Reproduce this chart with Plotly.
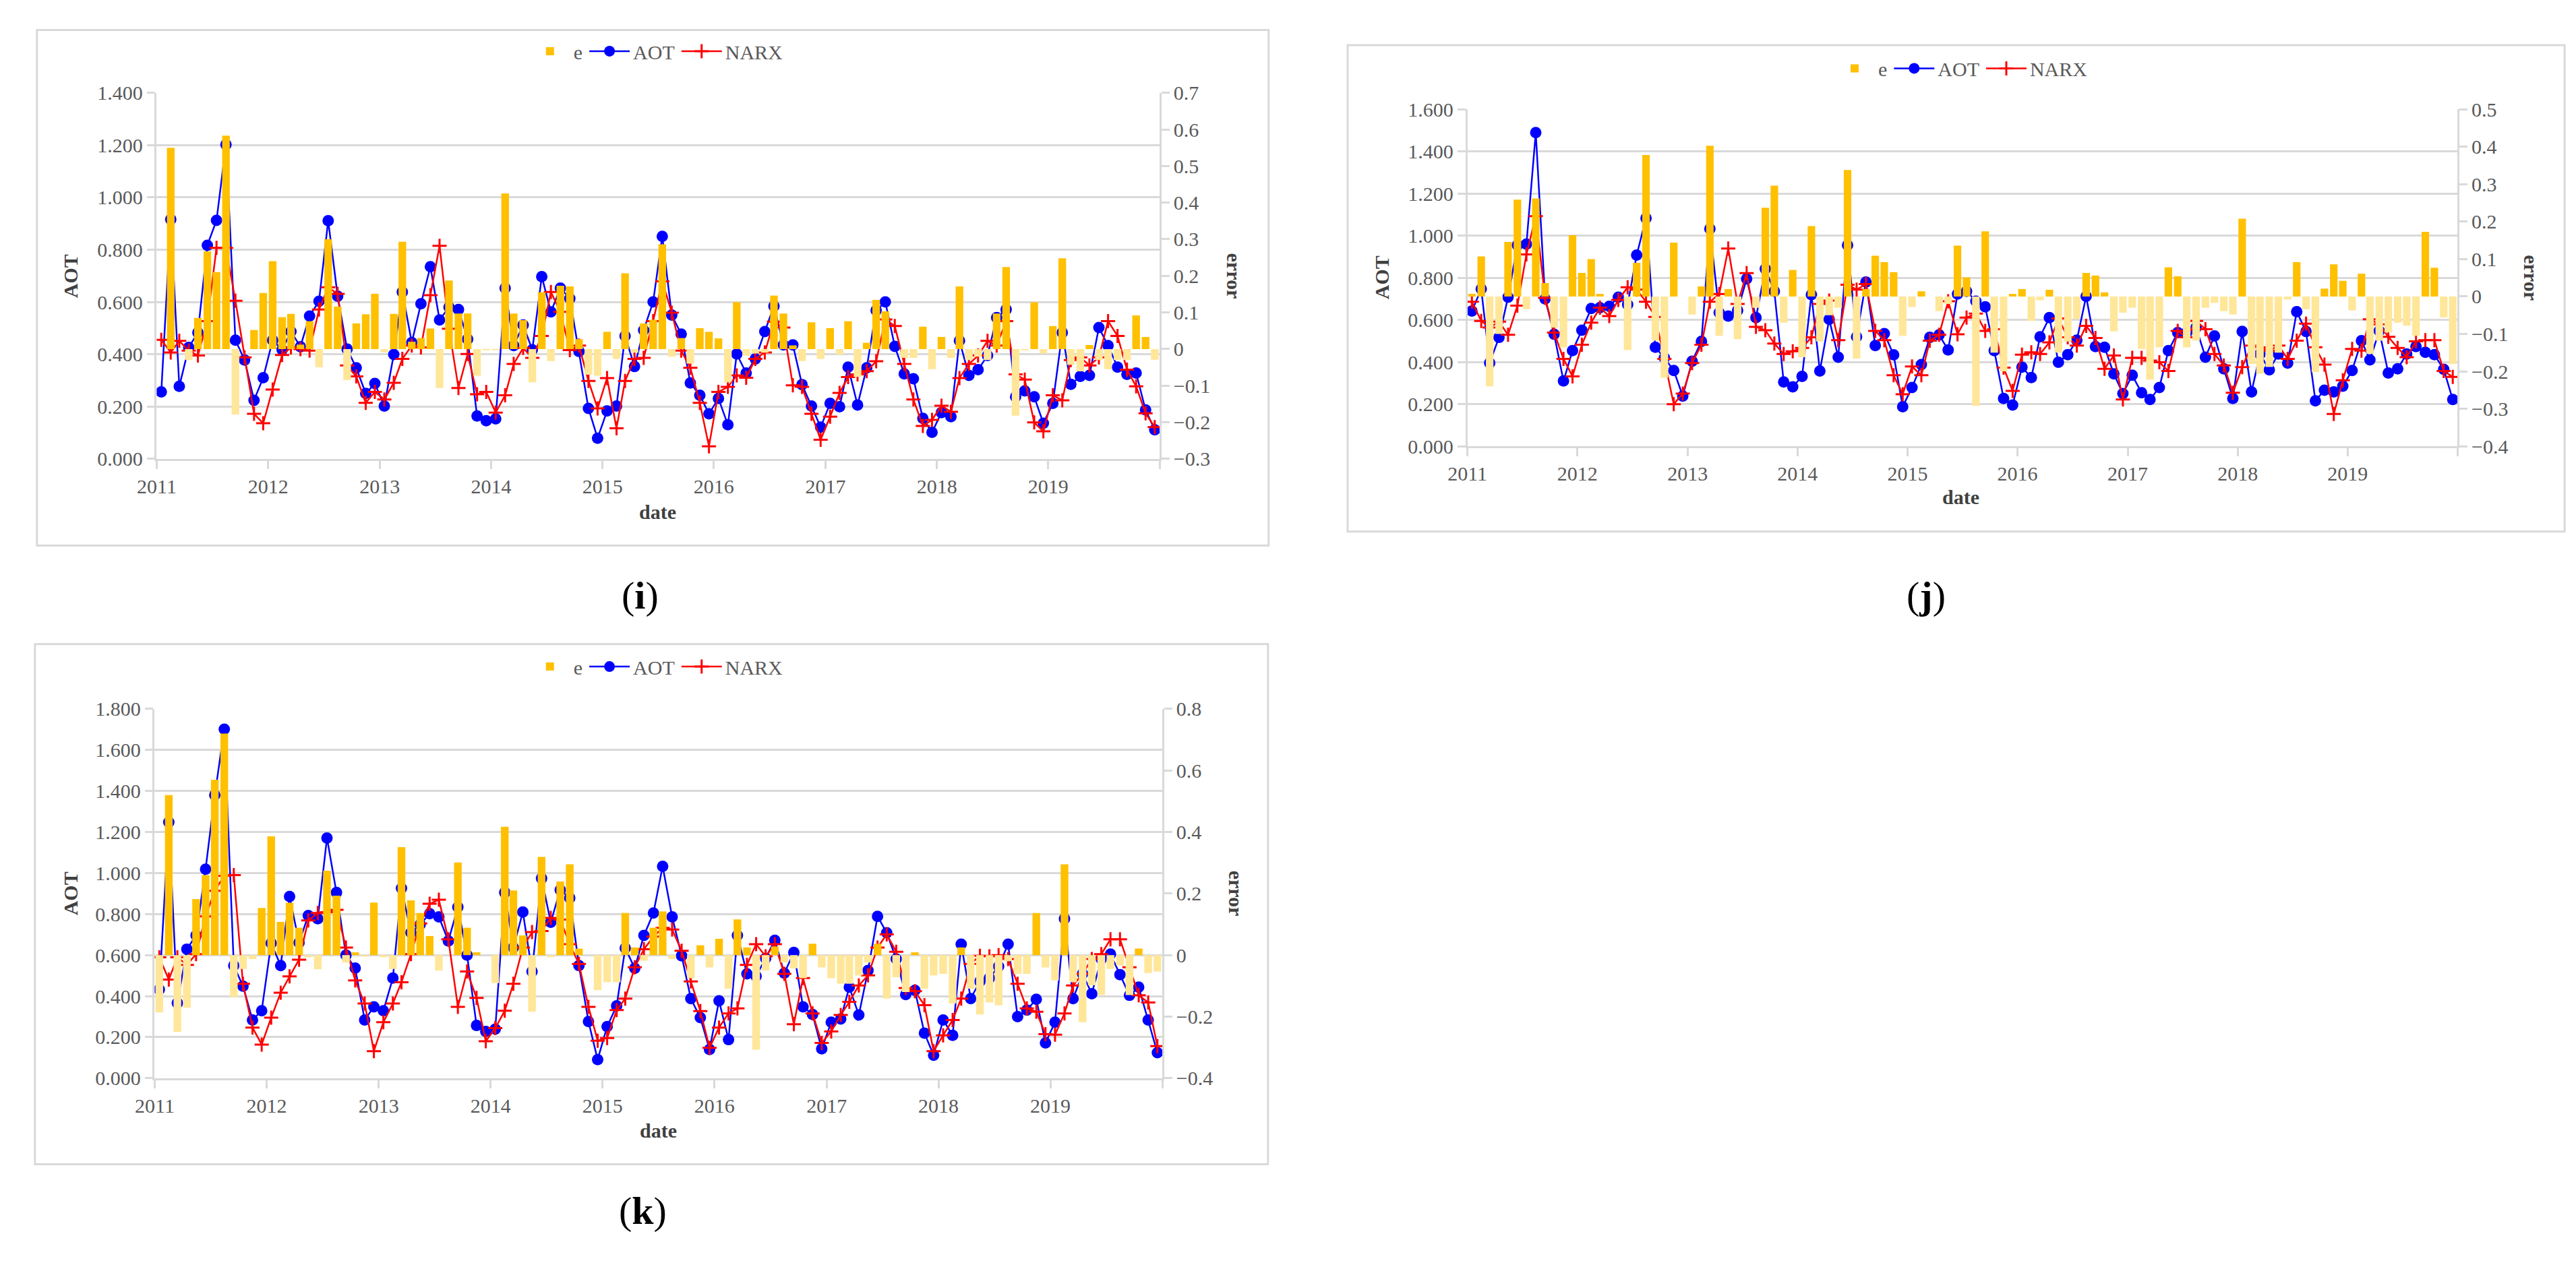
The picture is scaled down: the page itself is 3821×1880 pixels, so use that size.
import numpy as np
import pandas as pd
import plotly.graph_objects as go

W, H = 3821, 1880

# ---------------- data ----------------
months = pd.date_range("2011-01-01", periods=108, freq="MS") + pd.Timedelta(days=15)
year_ticks = [f"{y}-01-01" for y in range(2011, 2021)]
year_labels = [str(y) for y in range(2011, 2020)] + [""]

aot_i = [0.256, 0.916, 0.277, 0.426, 0.483, 0.817, 0.912, 1.202, 0.454, 0.378, 0.224, 0.310,
         0.454, 0.417, 0.487, 0.429, 0.546, 0.603, 0.911, 0.622, 0.420, 0.348, 0.250, 0.288,
         0.202, 0.399, 0.638, 0.445, 0.593, 0.735, 0.531, 0.580, 0.571, 0.458, 0.164, 0.146,
         0.153, 0.653, 0.433, 0.512, 0.417, 0.697, 0.562, 0.653, 0.613, 0.411, 0.193, 0.079,
         0.183, 0.202, 0.470, 0.353, 0.492, 0.600, 0.851, 0.550, 0.477, 0.290, 0.243, 0.172,
         0.231, 0.130, 0.401, 0.328, 0.382, 0.487, 0.584, 0.436, 0.436, 0.284, 0.202, 0.121,
         0.212, 0.199, 0.351, 0.206, 0.348, 0.568, 0.600, 0.430, 0.325, 0.306, 0.155, 0.101,
         0.177, 0.161, 0.452, 0.319, 0.341, 0.395, 0.540, 0.571, 0.237, 0.260, 0.237, 0.136,
         0.212, 0.483, 0.285, 0.315, 0.319, 0.502, 0.433, 0.351, 0.323, 0.328, 0.187, 0.111]
narx_i = [0.455, 0.407, 0.451, 0.414, 0.395, 0.527, 0.807, 0.807, 0.605, 0.388, 0.172, 0.136,
          0.265, 0.397, 0.426, 0.420, 0.414, 0.571, 0.656, 0.631, 0.357, 0.315, 0.214, 0.256,
          0.227, 0.291, 0.382, 0.433, 0.426, 0.626, 0.815, 0.498, 0.271, 0.401, 0.247, 0.256,
          0.177, 0.243, 0.363, 0.424, 0.386, 0.470, 0.638, 0.562, 0.416, 0.433, 0.298, 0.193,
          0.309, 0.117, 0.298, 0.382, 0.386, 0.527, 0.679, 0.559, 0.414, 0.348, 0.214, 0.048,
          0.256, 0.275, 0.319, 0.310, 0.382, 0.407, 0.525, 0.502, 0.281, 0.275, 0.172, 0.073,
          0.161, 0.252, 0.313, 0.323, 0.335, 0.373, 0.533, 0.508, 0.363, 0.227, 0.126, 0.149,
          0.203, 0.180, 0.309, 0.363, 0.395, 0.451, 0.433, 0.527, 0.323, 0.303, 0.139, 0.105,
          0.243, 0.224, 0.378, 0.388, 0.357, 0.388, 0.527, 0.470, 0.341, 0.277, 0.174, 0.121]
e_i = [0.000, 0.550, 0.000, -0.030, 0.085, 0.267, 0.210, 0.583, -0.179, 0.000, 0.052, 0.153,
       0.240, 0.087, 0.096, 0.012, 0.076, -0.050, 0.300, 0.116, -0.085, 0.070, 0.095, 0.151,
       -0.009, 0.096, 0.293, 0.020, 0.030, 0.056, -0.106, 0.187, 0.097, 0.097, -0.073, -0.003,
       -0.003, 0.425, 0.097, 0.079, -0.091, 0.155, -0.033, 0.173, 0.171, 0.027, -0.070, -0.073,
       0.047, -0.027, 0.207, -0.010, 0.070, 0.080, 0.286, -0.021, 0.030, -0.040, 0.057, 0.047,
       0.029, -0.091, 0.128, -0.018, -0.012, -0.010, 0.146, 0.097, 0.010, -0.033, 0.073, -0.027,
       0.057, -0.015, 0.076, -0.076, 0.017, 0.134, 0.103, 0.000, -0.024, -0.024, 0.061, -0.055,
       0.033, -0.024, 0.171, -0.030, -0.021, -0.030, 0.097, 0.224, -0.182, -0.003, 0.128, -0.012,
       0.063, 0.248, -0.043, -0.061, 0.011, -0.030, -0.055, -0.030, -0.030, 0.092, 0.033, -0.029]

aot_j = [0.642, 0.747, 0.396, 0.517, 0.708, 0.955, 0.960, 1.490, 0.700, 0.532, 0.310, 0.454,
         0.551, 0.654, 0.658, 0.665, 0.708, 0.673, 0.908, 1.083, 0.470, 0.420, 0.360, 0.238,
         0.404, 0.498, 1.033, 0.634, 0.618, 0.645, 0.795, 0.611, 0.842, 0.736, 0.305, 0.282,
         0.332, 0.720, 0.357, 0.603, 0.423, 0.955, 0.520, 0.780, 0.478, 0.535, 0.434, 0.188,
         0.279, 0.388, 0.517, 0.529, 0.457, 0.723, 0.736, 0.689, 0.662, 0.454, 0.227, 0.196,
         0.376, 0.326, 0.520, 0.611, 0.399, 0.435, 0.504, 0.712, 0.473, 0.470, 0.344, 0.250,
         0.337, 0.254, 0.222, 0.279, 0.454, 0.540, 0.540, 0.564, 0.423, 0.524, 0.368, 0.227,
         0.545, 0.258, 0.438, 0.363, 0.438, 0.395, 0.639, 0.545, 0.216, 0.266, 0.258, 0.285,
         0.360, 0.501, 0.410, 0.548, 0.348, 0.368, 0.438, 0.473, 0.446, 0.435, 0.365, 0.222]
narx_j = [0.686, 0.595, 0.564, 0.592, 0.529, 0.668, 0.911, 1.093, 0.705, 0.540, 0.415, 0.332,
          0.482, 0.587, 0.658, 0.618, 0.695, 0.755, 0.744, 0.686, 0.614, 0.415, 0.200, 0.250,
          0.395, 0.482, 0.686, 0.723, 0.939, 0.676, 0.822, 0.567, 0.551, 0.488, 0.438, 0.451,
          0.467, 0.517, 0.676, 0.692, 0.504, 0.767, 0.744, 0.770, 0.548, 0.504, 0.337, 0.247,
          0.379, 0.337, 0.501, 0.529, 0.689, 0.532, 0.611, 0.630, 0.548, 0.556, 0.373, 0.263,
          0.435, 0.446, 0.438, 0.493, 0.607, 0.517, 0.478, 0.572, 0.514, 0.368, 0.431, 0.222,
          0.420, 0.420, 0.407, 0.399, 0.357, 0.548, 0.517, 0.595, 0.556, 0.438, 0.384, 0.254,
          0.376, 0.478, 0.470, 0.454, 0.478, 0.415, 0.501, 0.582, 0.470, 0.388, 0.153, 0.313,
          0.462, 0.454, 0.603, 0.579, 0.520, 0.467, 0.423, 0.498, 0.504, 0.504, 0.357, 0.329]
e_j = [0.007, 0.107, -0.240, -0.100, 0.146, 0.259, -0.034, 0.262, 0.036, -0.083, -0.136, 0.164,
       0.063, 0.100, 0.007, 0.000, 0.000, -0.143, 0.090, 0.378, -0.118, -0.217, 0.144, 0.000,
       -0.048, 0.027, 0.403, -0.105, 0.020, -0.114, 0.000, -0.030, 0.237, 0.296, -0.070, 0.071,
       -0.162, 0.188, -0.120, -0.050, -0.030, 0.338, -0.166, 0.020, 0.109, 0.092, 0.065, -0.105,
       -0.028, 0.014, 0.000, -0.039, -0.020, 0.136, 0.051, -0.292, 0.174, -0.150, -0.200, 0.007,
       0.020, -0.065, -0.010, 0.018, -0.150, -0.120, -0.060, 0.063, 0.056, 0.011, -0.093, -0.043,
       -0.030, -0.140, -0.222, -0.136, 0.078, 0.054, -0.136, -0.118, -0.030, -0.017, -0.039, -0.048,
       0.208, -0.180, -0.206, -0.188, -0.150, -0.008, 0.092, -0.034, -0.202, 0.021, 0.086, 0.042,
       -0.037, 0.061, -0.153, -0.118, -0.096, -0.070, -0.078, -0.105, 0.173, 0.077, -0.056, -0.180]

aot_k = [0.432, 1.248, 0.367, 0.629, 0.696, 1.019, 1.380, 1.701, 0.549, 0.449, 0.284, 0.329,
         0.658, 0.549, 0.886, 0.661, 0.793, 0.777, 1.171, 0.905, 0.600, 0.537, 0.284, 0.348,
         0.329, 0.488, 0.926, 0.709, 0.749, 0.802, 0.786, 0.669, 0.834, 0.600, 0.257, 0.228,
         0.239, 0.905, 0.637, 0.810, 0.520, 0.974, 0.760, 0.918, 0.878, 0.549, 0.276, 0.091,
         0.252, 0.353, 0.634, 0.536, 0.696, 0.805, 1.033, 0.786, 0.597, 0.388, 0.295, 0.140,
         0.377, 0.188, 0.696, 0.509, 0.497, 0.584, 0.672, 0.512, 0.613, 0.348, 0.311, 0.143,
         0.273, 0.289, 0.444, 0.308, 0.525, 0.789, 0.709, 0.581, 0.408, 0.428, 0.220, 0.112,
         0.284, 0.209, 0.653, 0.388, 0.472, 0.488, 0.545, 0.653, 0.300, 0.332, 0.385, 0.172,
         0.273, 0.777, 0.388, 0.509, 0.412, 0.581, 0.605, 0.505, 0.404, 0.444, 0.284, 0.124]
narx_k = [0.589, 0.481, 0.589, 0.552, 0.605, 0.789, 0.914, 0.987, 0.990, 0.460, 0.247, 0.164,
          0.295, 0.417, 0.496, 0.578, 0.769, 0.805, 0.809, 0.821, 0.637, 0.477, 0.364, 0.132,
          0.273, 0.364, 0.468, 0.605, 0.754, 0.850, 0.870, 0.677, 0.348, 0.520, 0.391, 0.180,
          0.244, 0.329, 0.460, 0.637, 0.712, 0.717, 0.781, 0.773, 0.653, 0.557, 0.348, 0.183,
          0.196, 0.332, 0.388, 0.541, 0.629, 0.690, 0.733, 0.725, 0.621, 0.472, 0.327, 0.148,
          0.247, 0.316, 0.340, 0.552, 0.653, 0.594, 0.653, 0.509, 0.263, 0.488, 0.316, 0.172,
          0.228, 0.308, 0.372, 0.452, 0.501, 0.637, 0.701, 0.616, 0.440, 0.424, 0.356, 0.132,
          0.209, 0.284, 0.388, 0.557, 0.597, 0.594, 0.600, 0.581, 0.460, 0.340, 0.324, 0.215,
          0.212, 0.316, 0.452, 0.509, 0.581, 0.605, 0.677, 0.677, 0.541, 0.404, 0.369, 0.156]
e_k = [-0.186, 0.520, -0.250, -0.171, 0.182, 0.260, 0.570, 0.720, -0.136, -0.045, -0.013, 0.153,
       0.386, 0.108, 0.170, 0.089, -0.007, -0.046, 0.274, 0.193, -0.024, 0.009, -0.005, 0.171,
       -0.007, -0.045, 0.351, 0.178, 0.137, 0.062, -0.050, 0.000, 0.301, 0.089, 0.009, 0.000,
       -0.091, 0.417, 0.210, 0.064, -0.184, 0.319, -0.007, 0.239, 0.295, 0.021, 0.000, -0.114,
       -0.088, -0.088, 0.137, 0.025, -0.018, 0.089, 0.142, -0.013, 0.000, -0.075, 0.032, -0.040,
       0.053, -0.109, 0.116, 0.025, -0.307, -0.050, 0.028, -0.024, -0.043, -0.075, 0.037, -0.040,
       -0.075, -0.093, -0.093, -0.066, -0.024, 0.037, -0.141, -0.072, -0.120, 0.009, -0.109, -0.066,
       -0.061, -0.157, 0.025, -0.109, -0.193, -0.154, -0.163, -0.020, -0.061, -0.061, 0.137, -0.040,
       -0.082, 0.295, -0.088, -0.218, -0.098, -0.130, -0.045, -0.034, -0.130, 0.021, -0.058, -0.053]

panels = [
    dict(name="i", aot=aot_i, narx=narx_i, e=e_i, left_max=1.4, right=(-0.3, 0.7), rdtick=0.1),
    dict(name="j", aot=aot_j, narx=narx_j, e=e_j, left_max=1.6, right=(-0.4, 0.5), rdtick=0.1),
    dict(name="k", aot=aot_k, narx=narx_k, e=e_k, left_max=1.8, right=(-0.4, 0.8), rdtick=0.2),
]

# ---------------- layout geometry (pixels) ----------------
geo = [
    dict(plot=(205, 1704, 123, 676), frame=(26, 1867, 28, 807), legend=(952, 60),
         aot_t=(76, 400), err_t=(1815, 400), date=(954, 756), label=(928, 882)),
    dict(plot=(2164, 3644, 148, 657), frame=(1985, 3804, 51, 786), legend=(2902, 86),
         aot_t=(2036, 402), err_t=(3754, 402), date=(2902, 734), label=(2850, 882)),
    dict(plot=(202, 1708, 1054, 1612), frame=(23, 1866, 956, 1742), legend=(952, 990),
         aot_t=(76, 1333), err_t=(1818, 1333), date=(955, 1691), label=(932, 1812)),
]

def px(x):
    return x / W

def py(y):
    return 1 - y / H

FONT = "Liberation Serif"
GRID = "#D9D9D9"
TXT = "#595959"
POS_C = "#FFC000"
NEG_C = "#FFE699"
bar_w = 25 * 24 * 3600 * 1000

fig = go.Figure()
layout = dict(width=W, height=H, margin=dict(l=0, r=0, t=0, b=0),
              paper_bgcolor="white", plot_bgcolor="white", barmode="overlay",
              showlegend=True)
shapes, annotations = [], []

for n, (p, g) in enumerate(zip(panels, geo)):
    xa = "x" if n == 0 else f"x{n + 1}"
    yl_id = 2 * n + 1
    yr_id = 2 * n + 2
    yl = "y" if yl_id == 1 else f"y{yl_id}"
    yr = f"y{yr_id}"
    leg = "legend" if n == 0 else f"legend{n + 1}"
    e = np.array(p["e"])
    e_pos = [v if v >= 0 else None for v in e]
    e_neg = [v if v < 0 else None for v in e]

    fig.add_trace(go.Bar(x=months, y=e_pos, name="e", width=bar_w, marker=dict(color=POS_C, line=dict(width=0)),
                         xaxis=xa, yaxis=yr, legend=leg, showlegend=True))
    fig.add_trace(go.Bar(x=months, y=e_neg, name="e", width=bar_w, marker=dict(color=NEG_C, line=dict(width=0)),
                         xaxis=xa, yaxis=yr, legend=leg, showlegend=False))
    fig.add_trace(go.Scatter(x=months, y=p["aot"], name="AOT", mode="lines+markers",
                             line=dict(color="#0000FF", width=2.5),
                             marker=dict(symbol="circle", size=17, color="#0000FF"),
                             xaxis=xa, yaxis=yl, legend=leg))
    fig.add_trace(go.Scatter(x=months, y=p["narx"], name="NARX", mode="lines+markers",
                             line=dict(color="#FF0000", width=2.5),
                             marker=dict(symbol="cross-thin", size=15, color="#FF0000",
                                         line=dict(color="#FF0000", width=3)),
                             xaxis=xa, yaxis=yl, legend=leg))

    x0, x1, y0, y1 = g["plot"]
    xkey = "xaxis" if n == 0 else f"xaxis{n + 1}"
    ylkey = "yaxis" if yl_id == 1 else f"yaxis{yl_id}"
    yrkey = f"yaxis{yr_id}"
    layout[xkey] = dict(domain=[px(x0), px(x1)], anchor=yl, type="date",
                        range=["2011-01-01", "2020-01-01"],
                        tickmode="array", tickvals=year_ticks, ticktext=year_labels,
                        ticks="outside", ticklen=12, tickwidth=2.5, tickcolor=GRID,
                        showline=True, linecolor=GRID, linewidth=2.5, showgrid=False,
                        zeroline=False,
                        tickfont=dict(family=FONT, size=30, color=TXT))
    layout[ylkey] = dict(domain=[py(y1), py(y0)], anchor=xa, range=[0, p["left_max"]],
                         dtick=0.2, tick0=0, tickformat=".3f",
                         ticks="outside", ticklen=12, tickwidth=2.5, tickcolor=GRID,
                         showline=True, linecolor=GRID, linewidth=2.5,
                         showgrid=True, gridcolor=GRID, gridwidth=2.5, zeroline=False,
                         tickfont=dict(family=FONT, size=30, color=TXT))
    layout[yrkey] = dict(domain=[py(y1), py(y0)], anchor=xa, overlaying=yl, side="right",
                         range=list(p["right"]), dtick=p["rdtick"], tick0=0,
                         ticks="outside", ticklen=12, tickwidth=2.5, tickcolor=GRID,
                         showline=True, linecolor=GRID, linewidth=2.5,
                         showgrid=False, zeroline=False,
                         tickfont=dict(family=FONT, size=30, color=TXT))
    lx, ly = g["legend"]
    layout[leg] = dict(x=px(lx), y=py(ly), xanchor="center", yanchor="middle",
                       orientation="h", bgcolor="rgba(0,0,0,0)",
                       font=dict(family=FONT, size=30, color=TXT),
                       traceorder="normal", itemwidth=60)

    fx0, fx1, fy0, fy1 = g["frame"]
    shapes.append(dict(type="rect", xref="paper", yref="paper",
                       x0=px(fx0), x1=px(fx1), y0=py(fy1), y1=py(fy0),
                       line=dict(color=GRID, width=3), layer="below"))

    ax, ay = g["aot_t"]
    annotations.append(dict(text="<b>AOT</b>", x=px(ax), y=py(ay), xref="paper", yref="paper",
                            showarrow=False, textangle=-90, xanchor="center", yanchor="middle",
                            font=dict(family=FONT, size=30, color="#404040")))
    ex, ey = g["err_t"]
    annotations.append(dict(text="<b>error</b>", x=px(ex), y=py(ey), xref="paper", yref="paper",
                            showarrow=False, textangle=90, xanchor="center", yanchor="middle",
                            font=dict(family=FONT, size=30, color="#404040")))
    dx, dy = g["date"]
    annotations.append(dict(text="<b>date</b>", x=px(dx), y=py(dy), xref="paper", yref="paper",
                            showarrow=False, xanchor="center", yanchor="middle",
                            font=dict(family=FONT, size=30, color="#404040")))
    lbx, lby = g["label"]
    annotations.append(dict(text=f"(<b>{p['name']}</b>)", x=px(lbx), y=py(lby), xref="paper", yref="paper",
                            showarrow=False, xanchor="center", yanchor="middle",
                            font=dict(family=FONT, size=58, color="black")))

layout["shapes"] = shapes
layout["annotations"] = annotations
fig.update_layout(**layout)

fig.write_html("out.html", config={"displayModeBar": False},
               post_script="document.body.style.margin='0px';")
